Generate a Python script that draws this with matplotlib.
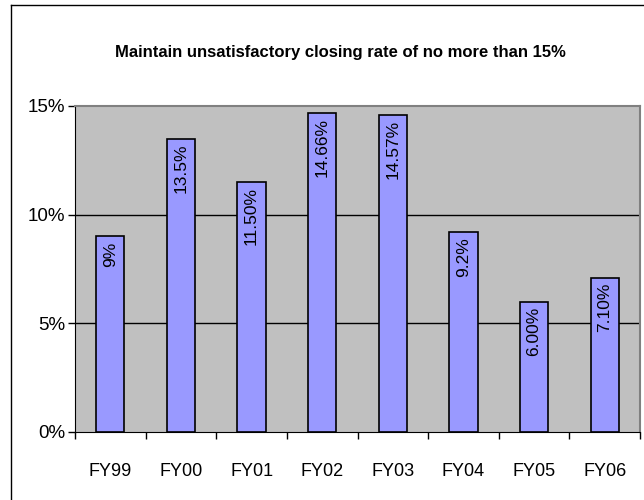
import numpy as np
import matplotlib
matplotlib.use("Agg")
import matplotlib.pyplot as plt
from matplotlib.lines import Line2D

years = ["FY99", "FY00", "FY01", "FY02", "FY03", "FY04", "FY05", "FY06"]
rates = [9.0, 13.5, 11.5, 14.66, 14.57, 9.2, 6.0, 7.1]
rate_labels = ["9%", "13.5%", "11.50%", "14.66%", "14.57%", "9.2%", "6.00%", "7.10%"]
yticks = [0, 5, 10, 15]

plt.rcParams['font.family'] = ['Liberation Sans', 'DejaVu Sans']

fig = plt.figure(figsize=(6.44, 5.0), dpi=100)
ax = fig.add_axes([75/644, 68/500, 565/644, 326/500])
ax.set_facecolor('#C0C0C0')

x = np.arange(len(years))
ax.bar(x, rates, width=0.4, color='#9999FF', edgecolor='black', linewidth=1.2, zorder=3)

# gridlines
for v in yticks[1:-1]:
    ax.axhline(v, color='black', linewidth=1, zorder=1)

for xi, v, lab in zip(x, rates, rate_labels):
    ax.annotate(lab, (xi, v), xytext=(0, -3.5), textcoords='offset points',
                rotation=90, ha='center', va='top', fontsize=12.5, zorder=4)

ax.set_xlim(-0.5, len(years) - 0.5)
ax.set_ylim(0, 15)
ax.set_yticks(yticks)
ax.set_yticklabels([f"{t}%" for t in yticks], fontsize=13.5)
ax.set_xticks(np.arange(len(years) + 1) - 0.5)
ax.set_xticklabels([])
ax.set_xticks(x, minor=True)
ax.set_xticklabels(years, minor=True, fontsize=13)
ax.tick_params(axis='x', which='minor', length=0, pad=22)
ax.tick_params(axis='x', which='major', length=5, width=1, direction='out')
ax.tick_params(axis='y', length=5, width=1, direction='out', pad=2)

for s in ['top', 'right']:
    ax.spines[s].set_color('#808080')
    ax.spines[s].set_linewidth(1.5)
ax.spines['left'].set_color('black')
ax.spines['bottom'].set_color('black')

fig.text(340/644, 1 - 52/500, "Maintain unsatisfactory closing rate of no more than 15%",
         ha='center', va='center', fontsize=12, fontweight='bold')

# outer chart border (left and top visible)
fig.add_artist(Line2D([11/644, 11/644], [0, 1 - 5/500], transform=fig.transFigure,
                      color='black', linewidth=1))
fig.add_artist(Line2D([11/644, 1], [1 - 5/500, 1 - 5/500], transform=fig.transFigure,
                      color='black', linewidth=1))

fig.savefig("out.png", dpi=100)
